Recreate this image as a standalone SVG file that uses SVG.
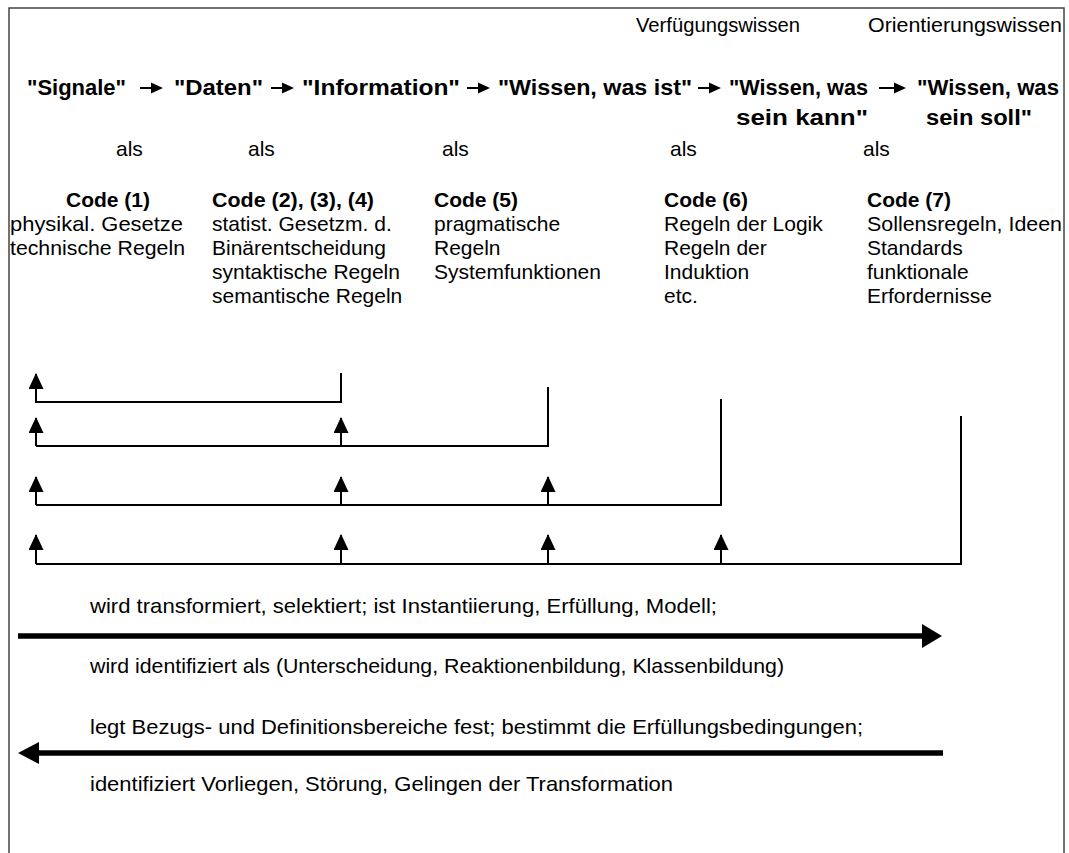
<svg xmlns="http://www.w3.org/2000/svg" width="1069" height="853" viewBox="0 0 1069 853">
<defs>
<style>
text{font-family:"Liberation Sans",Arial,sans-serif;fill:#000}
.n{font-size:21px}
.t{font-size:20px}
.b{font-size:22px;font-weight:bold}
.h{font-size:21px;font-weight:bold}
.ln{stroke:#000;stroke-width:2;fill:none}
.big{stroke:#000;stroke-width:5.5;fill:none}
.head{fill:#000}
</style>
<marker id="up" markerUnits="userSpaceOnUse" markerWidth="16" markerHeight="15" refX="15" refY="7.5" orient="auto" viewBox="0 0 16 15">
<path d="M0,0 L16,7.5 L0,15 Z" fill="#000"/>
</marker>
</defs>
<rect x="0" y="0" width="1069" height="853" fill="#fff"/>
<rect x="9" y="8" width="1055" height="900" fill="none" stroke="#444" stroke-width="1.5"/>

<g id="labels-top">
<text class="t" x="636" y="32" textLength="164" lengthAdjust="spacingAndGlyphs">Verfügungswissen</text>
<text class="t" x="868" y="32" textLength="194" lengthAdjust="spacingAndGlyphs">Orientierungswissen</text>
</g>

<g id="chain">
<g id="n-signale"><text class="b" x="27" y="95" textLength="99" lengthAdjust="spacingAndGlyphs">"Signale"</text></g>
<g id="n-daten"><text class="b" x="174" y="95" textLength="89" lengthAdjust="spacingAndGlyphs">"Daten"</text></g>
<g id="n-information"><text class="b" x="302" y="95" textLength="158" lengthAdjust="spacingAndGlyphs">"Information"</text></g>
<g id="n-wissen-ist"><text class="b" x="498" y="95" textLength="194" lengthAdjust="spacingAndGlyphs">"Wissen, was ist"</text></g>
<g id="n-wissen-kann">
<text class="b" x="729" y="95" textLength="139" lengthAdjust="spacingAndGlyphs">"Wissen, was</text>
<text class="b" x="736" y="125" textLength="132" lengthAdjust="spacingAndGlyphs">sein kann"</text>
</g>
<g id="n-wissen-soll">
<text class="b" x="917" y="95" textLength="142" lengthAdjust="spacingAndGlyphs">"Wissen, was</text>
<text class="b" x="926" y="125" textLength="106" lengthAdjust="spacingAndGlyphs">sein soll"</text>
</g>
</g>

<g id="chain-arrows">
<path class="ln" d="M140,88 H154"/><path class="head" d="M151,82.5 L163,88 L151,93.5 Z"/>
<path class="ln" d="M271,88 H285"/><path class="head" d="M282,82.5 L294,88 L282,93.5 Z"/>
<path class="ln" d="M467,88 H481"/><path class="head" d="M478,82.5 L490,88 L478,93.5 Z"/>
<path class="ln" d="M698,88 H712"/><path class="head" d="M709,82.5 L721,88 L709,93.5 Z"/>
<path class="ln" d="M879,88 H896"/><path class="head" d="M894,82.5 L906,88 L894,93.5 Z"/>
</g>

<g id="als">
<text class="n" x="116" y="156">als</text>
<text class="n" x="248" y="156">als</text>
<text class="n" x="442" y="156">als</text>
<text class="n" x="670" y="156">als</text>
<text class="n" x="863" y="156">als</text>
</g>

<g id="code1">
<text class="h" x="66" y="207" textLength="84" lengthAdjust="spacingAndGlyphs">Code (1)</text>
<text class="n" x="10" y="231" textLength="173" lengthAdjust="spacingAndGlyphs">physikal. Gesetze</text>
<text class="n" x="10" y="255" textLength="175" lengthAdjust="spacingAndGlyphs">technische Regeln</text>
</g>
<g id="code234">
<text class="h" x="212" y="207" textLength="162" lengthAdjust="spacingAndGlyphs">Code (2), (3), (4)</text>
<text class="n" x="212" y="231">statist. Gesetzm. d.</text>
<text class="n" x="212" y="255">Binärentscheidung</text>
<text class="n" x="212" y="279">syntaktische Regeln</text>
<text class="n" x="212" y="303">semantische Regeln</text>
</g>
<g id="code5">
<text class="h" x="434" y="207">Code (5)</text>
<text class="n" x="434" y="231">pragmatische</text>
<text class="n" x="434" y="255">Regeln</text>
<text class="n" x="434" y="279">Systemfunktionen</text>
</g>
<g id="code6">
<text class="h" x="664" y="207">Code (6)</text>
<text class="n" x="664" y="231">Regeln der Logik</text>
<text class="n" x="664" y="255">Regeln der</text>
<text class="n" x="664" y="279">Induktion</text>
<text class="n" x="664" y="303">etc.</text>
</g>
<g id="code7">
<text class="h" x="867" y="207">Code (7)</text>
<text class="n" x="867" y="231" textLength="195" lengthAdjust="spacingAndGlyphs">Sollensregeln, Ideen</text>
<text class="n" x="867" y="255">Standards</text>
<text class="n" x="867" y="279">funktionale</text>
<text class="n" x="867" y="303">Erfordernisse</text>
</g>

<g id="connectors">
<path class="ln" d="M341,373 V402 H36 V387"/>
<path class="ln" d="M36,402 V374" marker-end="url(#up)"/>

<path class="ln" d="M548,387 V446 H36"/>
<path class="ln" d="M36,446 V418" marker-end="url(#up)"/>
<path class="ln" d="M341,446 V418" marker-end="url(#up)"/>

<path class="ln" d="M721,399 V505 H36"/>
<path class="ln" d="M36,505 V477" marker-end="url(#up)"/>
<path class="ln" d="M341,505 V477" marker-end="url(#up)"/>
<path class="ln" d="M548,505 V477" marker-end="url(#up)"/>

<path class="ln" d="M961,416 V564 H36"/>
<path class="ln" d="M36,564 V535" marker-end="url(#up)"/>
<path class="ln" d="M341,564 V535" marker-end="url(#up)"/>
<path class="ln" d="M548,564 V535" marker-end="url(#up)"/>
<path class="ln" d="M721,564 V535" marker-end="url(#up)"/>

<path class="big" d="M18,636 H925"/>
<path class="head" d="M922,624 L942,636 L922,648 Z"/>
<path class="big" d="M37,753 H943"/>
<path class="head" d="M18,753 L39,742 L39,764 Z"/>
</g>

<g id="bottom-labels">
<text class="n" x="90" y="613" textLength="627" lengthAdjust="spacingAndGlyphs">wird transformiert, selektiert; ist Instantiierung, Erfüllung, Modell;</text>
<text class="n" x="90" y="673" textLength="694" lengthAdjust="spacingAndGlyphs">wird identifiziert als (Unterscheidung, Reaktionenbildung, Klassenbildung)</text>
<text class="n" x="90" y="734" textLength="773" lengthAdjust="spacingAndGlyphs">legt Bezugs- und Definitionsbereiche fest; bestimmt die Erfüllungsbedingungen;</text>
<text class="n" x="90" y="791" textLength="583" lengthAdjust="spacingAndGlyphs">identifiziert Vorliegen, Störung, Gelingen der Transformation</text>
</g>
</svg>
